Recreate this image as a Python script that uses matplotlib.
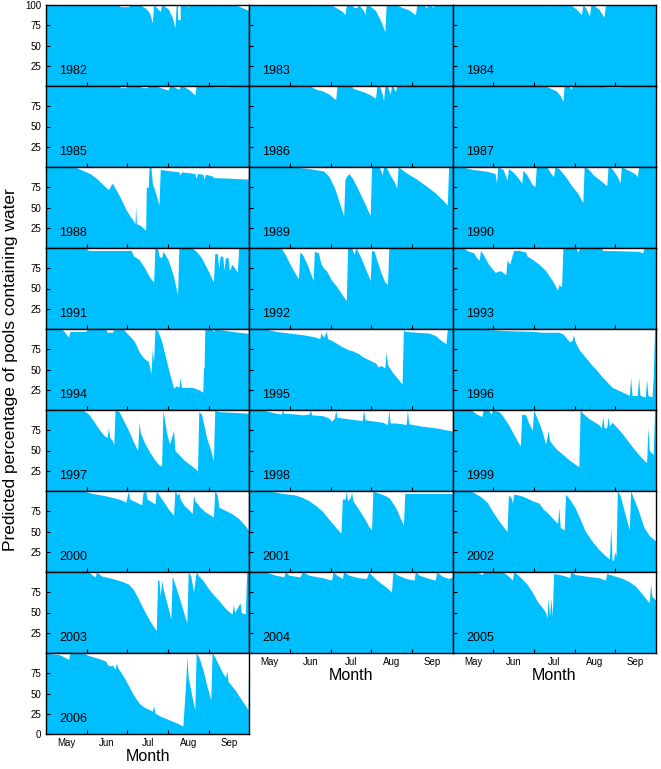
import matplotlib
matplotlib.use('Agg')
import matplotlib.pyplot as plt

plt.rcParams['font.family'] = ['Liberation Sans', 'DejaVu Sans']

# (day since 1 May, % of pools with water) break points
pts_1982 = [(0, 100), (55, 100), (56, 98), (62, 98), (63, 100), (71, 100), (75, 96), (78, 90), (80, 78), (81, 100),
            (82, 99), (86, 92), (87, 100), (88, 100), (92, 95), (95, 85), (97, 72), (98, 100), (99, 100), (99, 82),
            (101, 82), (101, 100), (106, 100), (107, 98), (108, 100), (143, 100), (153, 93)]
pts_1983 = [(0, 100), (62, 100), (66, 96), (70, 92), (72, 88), (73, 100), (77, 100), (79, 97), (81, 97), (82, 100),
            (83, 99), (86, 93), (87, 88), (88, 100), (90, 100), (95, 93), (99, 80), (102, 67), (103, 100), (111, 100),
            (115, 97), (120, 94), (125, 88), (126, 100), (132, 100), (133, 96), (134, 100), (137, 100), (138, 97),
            (139, 100), (153, 100)]
pts_1984 = [(0, 100), (73, 100), (74, 99), (75, 100), (89, 100), (93, 95), (97, 88), (98, 100), (100, 97), (103, 86),
            (104, 100), (106, 100), (110, 95), (114, 85), (115, 100), (140, 100), (141, 99), (142, 100), (153, 100)]
pts_1985 = [(0, 100), (55, 100), (56, 98), (60, 98), (61, 100), (71, 100), (72, 98), (76, 98), (77, 100), (83, 100),
            (88, 97), (92, 95), (93, 100), (95, 100), (100, 96), (101, 100), (103, 100), (108, 95), (112, 89),
            (113, 100), (125, 100), (126, 99), (138, 99), (139, 100), (153, 100)]
pts_1986 = [(0, 100), (46, 100), (50, 96), (55, 94), (60, 90), (65, 83), (66, 100), (77, 100), (78, 97), (84, 94),
            (90, 90), (95, 85), (96, 100), (98, 100), (100, 90), (101, 82), (102, 100), (104, 100), (106, 90),
            (107, 100), (108, 100), (110, 93), (111, 100), (153, 100)]
pts_1987 = [(0, 100), (70, 100), (74, 97), (78, 94), (81, 88), (83, 81), (84, 100), (88, 100), (89, 96), (90, 100),
            (114, 100), (115, 99), (127, 99), (128, 100), (153, 100)]
pts_1988 = [(0, 100), (22, 100), (30, 94), (33, 92), (38, 86), (43, 78), (47, 72), (49, 78), (50, 80), (52, 74),
            (56, 62), (60, 48), (63, 40), (66, 33), (67, 30), (67.5, 53), (68, 30), (71, 28), (75, 22), (75.5, 75),
            (77, 75), (77.5, 100), (79, 100), (80, 80), (83, 65), (85, 53), (86, 97), (90, 96), (100, 94), (101, 90),
            (102, 94), (112, 92), (113, 86), (114, 92), (118, 91), (119, 85), (120, 91), (125, 89), (126, 87),
            (140, 86), (153, 85)]
pts_1989 = [(0, 100), (34, 100), (45, 98), (56, 95), (60, 88), (64, 75), (68, 55), (71, 40), (72, 85), (73, 88),
            (75, 92), (78, 85), (82, 72), (86, 58), (91, 40), (92, 100), (98, 100), (99, 95), (100, 90), (101, 100),
            (103, 100), (106, 90), (109, 82), (111, 74), (112, 100), (114, 98), (118, 93), (125, 86), (132, 78),
            (140, 68), (145, 60), (149, 53), (150, 100), (153, 100)]
pts_1990 = [(0, 100), (7, 100), (15, 97), (25, 95), (32, 92), (33, 80), (34, 100), (38, 97), (41, 84), (42, 98),
            (46, 93), (50, 85), (52, 80), (53, 96), (56, 90), (60, 78), (62, 76), (63, 100), (71, 100), (74, 92),
            (76, 88), (77, 100), (80, 98), (85, 88), (90, 76), (94, 68), (98, 56), (99, 100), (102, 98), (106, 90),
            (110, 85), (116, 77), (117, 100), (120, 98), (124, 88), (126, 80), (127, 100), (130, 98), (137, 92),
            (139, 88), (140, 100), (153, 100)]
pts_1991 = [(0, 100), (30, 100), (32, 97), (64, 97), (66, 90), (70, 86), (74, 76), (78, 64), (81, 58), (82, 100),
            (84, 100), (85, 90), (87, 88), (88, 96), (92, 85), (96, 65), (99, 42), (100, 100), (110, 100), (113, 96),
            (117, 88), (122, 72), (126, 58), (127, 93), (129, 93), (130, 75), (131, 90), (133, 90), (134, 73),
            (135, 88), (137, 88), (138, 72), (140, 80), (144, 70), (145, 100), (153, 100)]
pts_1992 = [(0, 100), (24, 100), (27, 92), (30, 82), (34, 70), (37, 62), (38, 95), (40, 92), (44, 78), (48, 60),
            (49, 96), (52, 94), (54, 80), (56, 75), (58, 72), (62, 60), (66, 52), (70, 42), (73, 35), (74, 100),
            (77, 100), (79, 92), (80, 100), (81, 98), (84, 88), (88, 72), (91, 60), (92, 97), (94, 96), (96, 85),
            (99, 70), (102, 58), (104, 55), (105, 100), (153, 100)]
pts_1993 = [(0, 100), (8, 100), (12, 96), (16, 94), (18, 88), (20, 85), (21, 97), (23, 92), (27, 80), (32, 70),
            (36, 72), (40, 67), (41, 85), (43, 80), (45, 92), (46, 97), (50, 97), (55, 95), (56, 90), (60, 86),
            (65, 80), (70, 72), (75, 60), (79, 48), (80, 55), (82, 52), (83, 100), (93, 100), (94, 95), (96, 100),
            (112, 100), (113, 97), (140, 96), (143, 94), (144, 100), (153, 100)]
pts_1994 = [(0, 100), (12, 100), (15, 94), (17, 90), (18, 97), (30, 97), (31, 100), (45, 100), (46, 96), (50, 96),
            (51, 100), (58, 100), (62, 93), (66, 86), (68, 80), (70, 72), (73, 65), (75, 62), (77, 60), (79, 45),
            (80, 75), (81, 60), (82, 100), (84, 98), (87, 85), (90, 65), (93, 45), (96, 27), (98, 30), (100, 28),
            (101, 40), (102, 28), (110, 28), (115, 25), (118, 22), (118.5, 52), (119, 52), (119.5, 100), (125, 100),
            (126, 97), (127, 100), (140, 97), (145, 96), (150, 95), (153, 95)]
pts_1995 = [(0, 100), (12, 100), (20, 97), (30, 95), (40, 93), (50, 90), (53, 88), (54, 95), (56, 90), (58, 97),
            (59, 88), (62, 86), (66, 82), (70, 78), (75, 74), (78, 73), (80, 71), (82, 70), (85, 66), (90, 62),
            (95, 58), (97, 53), (99, 55), (102, 52), (103, 72), (104, 56), (108, 46), (112, 38), (115, 32),
            (116, 100), (117, 97), (135, 95), (140, 92), (145, 85), (148, 82), (149, 100), (153, 100)]
pts_1996 = [(0, 100), (20, 100), (40, 98), (60, 97), (67, 96), (80, 96), (83, 94), (86, 88), (88, 84), (90, 86),
            (91, 93), (92, 85), (95, 75), (100, 65), (105, 55), (108, 50), (112, 42), (116, 35), (120, 28), (124, 25),
            (128, 22), (133, 18), (134, 40), (135, 18), (139, 18), (140, 40), (141, 18), (145, 16), (146, 38),
            (147, 18), (150, 16), (151, 40), (152, 100), (153, 100)]
pts_1997 = [(0, 100), (28, 100), (32, 95), (36, 86), (40, 76), (44, 68), (46, 66), (47, 78), (48, 66), (50, 62),
            (51, 57), (52, 100), (55, 98), (58, 88), (62, 75), (66, 60), (69, 50), (70, 85), (71, 72), (74, 60),
            (78, 48), (82, 38), (85, 32), (87, 31), (88, 100), (89, 90), (91, 70), (93, 58), (96, 75), (97, 50),
            (100, 45), (104, 38), (108, 33), (112, 28), (114, 25), (115, 98), (117, 95), (119, 80), (121, 65),
            (124, 50), (126, 37), (127, 100), (130, 98), (153, 96)]
pts_1998 = [(0, 100), (10, 100), (15, 98), (20, 96), (24, 95), (25, 100), (26, 96), (35, 95), (40, 94), (45, 95),
            (46, 100), (47, 94), (55, 93), (60, 90), (62, 86), (64, 90), (65, 100), (66, 91), (75, 89), (85, 87),
            (86, 100), (87, 88), (95, 86), (100, 85), (104, 82), (105, 100), (106, 84), (110, 84), (115, 83),
            (118, 82), (119, 100), (120, 83), (130, 80), (140, 78), (153, 74)]
pts_1999 = [(0, 100), (14, 100), (18, 95), (22, 92), (23, 100), (27, 100), (29, 95), (30, 100), (35, 98), (38, 92),
            (42, 82), (46, 70), (50, 58), (51, 56), (52, 95), (55, 94), (57, 85), (60, 75), (61, 100), (63, 92),
            (66, 80), (68, 70), (70, 58), (72, 75), (73, 62), (78, 52), (83, 45), (88, 38), (93, 32), (95, 30),
            (96, 100), (98, 96), (102, 90), (106, 86), (110, 82), (112, 78), (113, 92), (114, 78), (116, 78),
            (117, 92), (118, 80), (120, 85), (125, 76), (130, 66), (135, 55), (140, 45), (144, 38), (146, 35),
            (147, 78), (148, 50), (151, 45), (152, 100), (153, 100)]
pts_2000 = [(0, 100), (28, 100), (35, 97), (45, 94), (55, 90), (58, 88), (60, 86), (62, 100), (63, 90), (68, 86),
            (72, 83), (73, 98), (75, 100), (76, 90), (80, 86), (82, 84), (83, 100), (85, 95), (88, 88), (92, 78),
            (96, 70), (97, 100), (99, 95), (100, 98), (101, 90), (104, 82), (108, 76), (110, 72), (111, 95),
            (112, 88), (116, 80), (120, 74), (124, 70), (126, 68), (127, 100), (129, 95), (130, 80), (135, 76),
            (140, 72), (145, 66), (150, 57), (153, 50)]
pts_2001 = [(0, 100), (15, 100), (25, 97), (35, 95), (40, 92), (45, 88), (50, 82), (55, 75), (60, 65), (65, 55),
            (69, 48), (70, 90), (72, 90), (73, 100), (74, 88), (76, 92), (77, 98), (78, 88), (82, 78), (86, 68),
            (90, 56), (92, 52), (93, 100), (96, 98), (100, 96), (105, 92), (110, 80), (114, 65), (116, 58),
            (117, 97), (153, 97)]
pts_2002 = [(0, 100), (14, 100), (18, 96), (22, 92), (26, 86), (30, 75), (34, 65), (38, 56), (41, 50), (42, 95),
            (44, 92), (45, 85), (46, 96), (50, 95), (55, 92), (60, 88), (65, 85), (68, 78), (72, 72), (76, 65),
            (79, 60), (80, 80), (81, 55), (84, 52), (85, 96), (88, 90), (92, 80), (96, 65), (100, 50), (105, 38),
            (110, 28), (115, 20), (118, 16), (119, 55), (120, 15), (121, 14), (122, 25), (123, 20), (124, 100),
            (126, 95), (130, 70), (133, 52), (134, 100), (136, 92), (140, 75), (144, 55), (148, 45), (153, 38)]
pts_2003 = [(0, 100), (32, 100), (35, 96), (37, 94), (38, 100), (42, 95), (50, 92), (58, 88), (62, 85), (66, 78),
            (70, 65), (74, 52), (78, 40), (82, 30), (83, 28), (84, 90), (85, 90), (86, 70), (87, 90), (88, 80),
            (92, 55), (94, 42), (95, 95), (96, 90), (100, 70), (104, 48), (106, 37), (107, 100), (109, 95), (111, 75),
            (113, 100), (115, 95), (118, 90), (122, 80), (126, 72), (130, 65), (135, 55), (140, 48), (141, 60),
            (142, 50), (146, 62), (147, 50), (150, 48), (151, 100), (153, 100)]
pts_2004 = [(0, 100), (12, 100), (20, 96), (26, 94), (27, 100), (30, 96), (38, 94), (40, 100), (45, 96), (55, 93),
            (62, 90), (63, 100), (66, 96), (70, 92), (71, 100), (75, 96), (82, 93), (88, 92), (90, 100), (92, 96),
            (96, 90), (100, 85), (104, 80), (107, 75), (108, 100), (112, 96), (118, 92), (124, 90), (125, 100),
            (128, 96), (135, 92), (140, 90), (141, 100), (145, 95), (150, 92), (153, 94)]
pts_2005 = [(0, 100), (18, 100), (22, 97), (24, 100), (38, 100), (42, 95), (45, 90), (46, 100), (48, 98), (52, 92),
            (56, 85), (60, 75), (64, 63), (68, 55), (70, 50), (71, 43), (72, 68), (73, 45), (74, 68), (75, 45),
            (76, 98), (80, 97), (85, 95), (88, 93), (89, 100), (92, 97), (100, 95), (110, 93), (115, 90), (116, 98),
            (120, 96), (128, 92), (133, 88), (138, 82), (143, 72), (148, 62), (149, 85), (150, 70), (153, 65)]
pts_2006 = [(0, 100), (10, 98), (15, 94), (17, 92), (18, 100), (28, 100), (32, 97), (40, 93), (45, 90), (46, 86),
            (48, 84), (50, 85), (52, 80), (53, 88), (54, 82), (58, 72), (62, 60), (66, 48), (70, 38), (74, 33),
            (78, 30), (80, 28), (81, 35), (82, 26), (86, 22), (92, 18), (98, 14), (103, 10), (104, 35), (105, 60),
            (106, 95), (107, 70), (110, 45), (112, 30), (113, 100), (115, 95), (118, 80), (121, 60), (124, 42),
            (125, 100), (127, 95), (130, 85), (133, 75), (135, 70), (136, 78), (137, 65), (142, 55), (146, 45),
            (150, 35), (152, 30), (152.5, 100), (153, 100)]

years = list(range(1982, 2007))
series = [pts_1982, pts_1983, pts_1984, pts_1985, pts_1986, pts_1987, pts_1988, pts_1989, pts_1990,
          pts_1991, pts_1992, pts_1993, pts_1994, pts_1995, pts_1996, pts_1997, pts_1998, pts_1999,
          pts_2000, pts_2001, pts_2002, pts_2003, pts_2004, pts_2005, pts_2006]
months = ['May', 'Jun', 'Jul', 'Aug', 'Sep']
month_edges = [0, 30.6, 61.2, 91.8, 122.4, 153]

W, H = 661, 769
fig = plt.figure(figsize=(W / 100, H / 100), dpi=100)

left, colw, top, rowh = 46, 203.3, 5, 81.0
blue = '#00BFFF'

for i, (yr, pts) in enumerate(zip(years, series)):
    r, c = i // 3, i % 3
    ax = fig.add_axes([(left + c * colw) / W, 1 - (top + (r + 1) * rowh) / H, colw / W, rowh / H])
    x = [p[0] for p in pts]
    y = [p[1] for p in pts]
    ax.fill_between(x, 0, y, color=blue, lw=0)
    ax.set_xlim(0, 153)
    ax.set_ylim(0, 100)
    for s in ax.spines.values():
        s.set_linewidth(1.0)
    yt = [25, 50, 75]
    if yr == 1982:
        yt = yt + [100]
    if yr == 2006:
        yt = [0] + yt
    ax.set_yticks(yt)
    ax.set_xticks(month_edges[1:-1])
    ax.set_xticks([(month_edges[k] + month_edges[k + 1]) / 2 for k in range(5)], minor=True)
    ax.tick_params(axis='both', which='major', direction='in', length=3, width=0.8, labelsize=7)
    ax.tick_params(axis='x', which='major', labelbottom=False)
    ax.tick_params(axis='x', which='minor', length=0, labelsize=7, pad=3)
    if c != 0:
        ax.set_yticklabels([])
    if yr in (2004, 2005, 2006):
        ax.set_xticklabels(months, minor=True)
        ax.set_xlabel('Month', fontsize=11.5, labelpad=0.5)
    else:
        ax.set_xticklabels([], minor=True)
    ax.text(0.065, 0.19, str(yr), transform=ax.transAxes, fontsize=9, va='center', ha='left')

fig.text(0.016, 1 - ((top + 9 * rowh + top) / 2) / H, 'Predicted percentage of pools containing water',
         rotation=90, fontsize=12.5, va='center', ha='center')

fig.savefig('out.png', dpi=100)
